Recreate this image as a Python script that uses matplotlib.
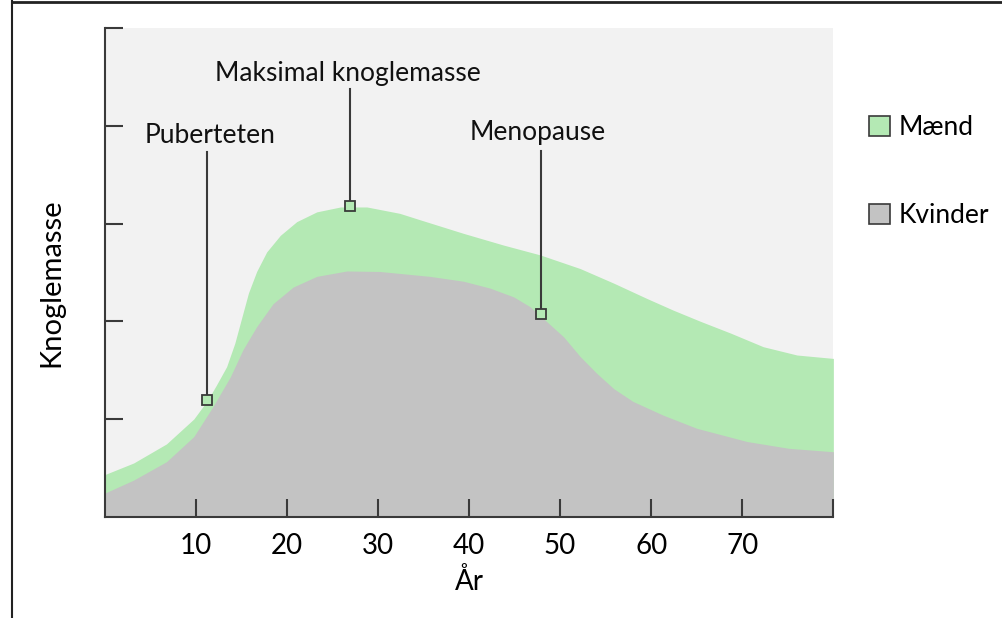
import matplotlib.pyplot as plt
from matplotlib.lines import Line2D
from matplotlib.patches import Patch

# bone mass curves (age in years, arbitrary units)
men_age = [0, 3.2, 6.8, 9.8, 11.3, 12.3, 13.4, 14.3, 15.1, 15.8, 16.7, 17.8,
           19.3, 21.1, 23.3, 25.9, 28.8, 32.4, 34.6, 39.4, 43.8, 47.8, 52.2,
           55.9, 59.5, 62.4, 65.4, 68.7, 72.3, 76.0, 80]
men = [0.43, 0.55, 0.745, 1.0, 1.19, 1.35, 1.535, 1.775, 2.05, 2.29, 2.51, 2.71,
       2.88, 3.02, 3.12, 3.17, 3.17, 3.105, 3.04, 2.9, 2.78, 2.68, 2.54,
       2.39, 2.235, 2.115, 2.0, 1.88, 1.74, 1.655, 1.62]

women_age = [0, 3.2, 6.8, 9.8, 11.9, 13.8, 15.2, 16.7, 18.5, 20.7, 23.3, 26.6,
             30.2, 35.7, 39.4, 42.3, 44.9, 46.7, 48.5, 50.4, 52.2, 54.0, 55.9,
             58.0, 61.3, 65.0, 70.5, 75.1, 80]
women = [0.24, 0.375, 0.563, 0.82, 1.126, 1.43, 1.71, 1.945, 2.18, 2.35, 2.46, 2.515,
         2.51, 2.46, 2.41, 2.34, 2.25, 2.15, 2.0, 1.84, 1.64, 1.47, 1.31,
         1.18, 1.04, 0.905, 0.77, 0.70, 0.665]

event_labels = ['Puberteten', 'Maksimal knoglemasse', 'Menopause']
event_age = [11.3, 26.9, 47.9]
event_value = [1.19, 3.18, 2.07]
event_text_x = [11.6, 26.7, 47.6]
event_text_y = [3.905, 4.54, 3.93]
event_line_top = [3.735, 4.375, 3.74]

xticks = [10, 20, 30, 40, 50, 60, 70, 80]
xticklabels = ['10', '20', '30', '40', '50', '60', '70', '']

green = '#b4e9b4'
grey = '#c3c3c3'
dark = '#3a3a3a'

plt.rcParams['font.family'] = ['Lato', 'DejaVu Sans']

fig = plt.figure(figsize=(10.02, 6.18), dpi=100)
ax = fig.add_axes([0.1043, 0.1639, 0.7274, 0.7905])
ax.set_facecolor('#f2f2f2')

ax.fill_between(men_age, 0, men, color=green, lw=0)
ax.fill_between(women_age, 0, women, color=grey, lw=0)

for lab, x, y, tx, ty, top in zip(event_labels, event_age, event_value,
                                  event_text_x, event_text_y, event_line_top):
    ax.plot([x, x], [y, top], color=dark, lw=1.5, zorder=3)
    ax.plot(x, y, 's', ms=7, mfc=green, mec=dark, mew=1.3, zorder=4)
    ax.text(tx, ty, lab, ha='center', va='center', fontsize=19, color='#111111')

ax.set_xlim(0, 80)
ax.set_ylim(0, 5)
ax.set_xticks(xticks)
ax.set_xticklabels(xticklabels, fontsize=20)
ax.set_yticks([1, 2, 3, 4, 5])
ax.set_yticklabels([])
ax.tick_params(direction='in', length=13, width=1.5, color=dark, pad=12)

for side in ['top', 'right']:
    ax.spines[side].set_visible(False)
for side in ['left', 'bottom']:
    ax.spines[side].set_color(dark)
    ax.spines[side].set_linewidth(1.5)

ax.set_xlabel('År', fontsize=20, labelpad=6)
ax.set_ylabel('Knoglemasse', fontsize=21)
ax.yaxis.set_label_coords(-0.055, 0.48)

handles = [Patch(facecolor=green, edgecolor=dark, lw=1.2, label='Mænd'),
           Patch(facecolor=grey, edgecolor=dark, lw=1.2, label='Kvinder')]
fig.legend(handles=handles, loc='upper left', bbox_to_anchor=(0.857, 0.831),
           frameon=False, fontsize=19, handlelength=0.8, handleheight=0.8,
           handletextpad=0.3, labelspacing=2.4, borderaxespad=0)

# outer frame lines (left and top)
fig.add_artist(Line2D([12 / 1002, 12 / 1002], [0, 1], color='#222222', lw=1.5))
fig.add_artist(Line2D([12 / 1002, 1], [1 - 1.5 / 618, 1 - 1.5 / 618], color='#222222', lw=2))

fig.savefig('out.png', dpi=100)
